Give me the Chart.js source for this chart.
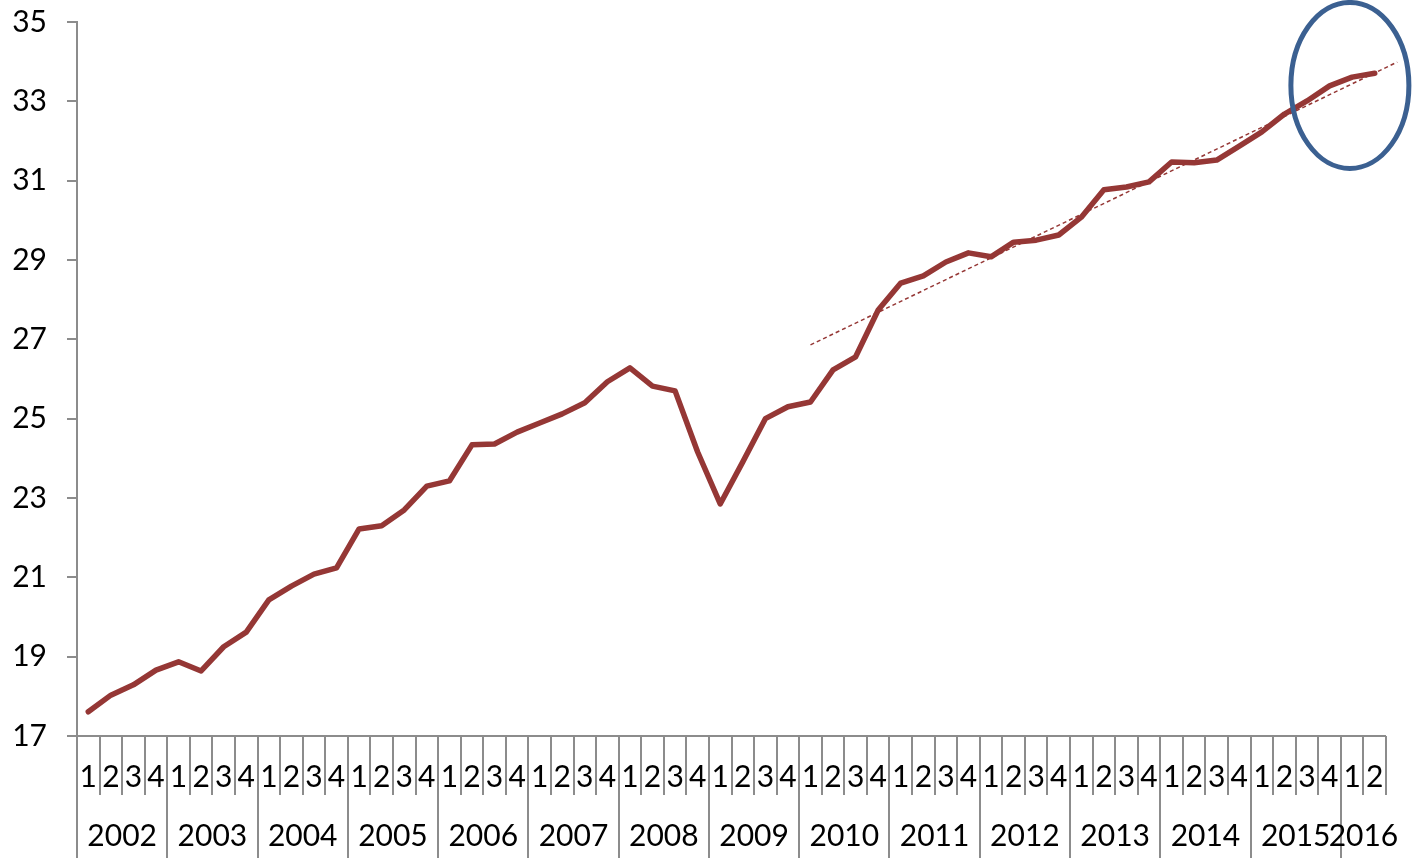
<!DOCTYPE html>
<html>
<head>
<meta charset="utf-8">
<script src="https://cdn.jsdelivr.net/npm/chart.js@4"></script>
<style>
  html, body { margin: 0; padding: 0; background: #fff; }
  #wrap { width: 1413px; height: 858px; }
</style>
</head>
<body>
<div id="wrap"><canvas id="chart"></canvas></div>
<script>
const years = ['2002', '2003', '2004', '2005', '2006', '2007', '2008', '2009',
    '2010', '2011', '2012', '2013', '2014', '2015', '2016'];
const quarters = ['1', '2', '3', '4'];
const values = [
    17.61, 18.03, 18.29, 18.66,   // 2002
    18.87, 18.64, 19.25, 19.62,   // 2003
    20.43, 20.78, 21.08, 21.24,   // 2004
    22.22, 22.30, 22.70, 23.30,   // 2005
    23.43, 24.34, 24.36, 24.66,   // 2006
    24.89, 25.12, 25.40, 25.93,   // 2007
    26.28, 25.82, 25.70, 24.16,   // 2008
    22.85, 23.91, 25.00, 25.30,   // 2009
    25.42, 26.23, 26.56, 27.74,   // 2010
    28.42, 28.60, 28.95, 29.18,   // 2011
    29.08, 29.45, 29.50, 29.63,   // 2012
    30.08, 30.77, 30.84, 30.97,   // 2013
    31.47, 31.45, 31.52, 31.87,   // 2014
    32.23, 32.68, 33.01, 33.39,   // 2015
    33.61, 33.71                  // 2016
];
// dashed trend line, start (2010 Q1) and end (one quarter past the data)
const trendQuarters = [32, 58];
const trendValues = [26.86, 33.99];
const yTicks = [17, 19, 21, 23, 25, 27, 29, 31, 33, 35];

const font = 'Lato, "Liberation Sans", sans-serif';
const axisColor = '#8c8c8c';

// category axis: quarter numbers with the year underneath
const quarterAxis = {
    id: 'quarterAxis',
    afterDraw(chart) {
        const ctx = chart.ctx;
        const x = chart.scales.x;
        const top = chart.chartArea.bottom;
        const n = values.length;
        ctx.save();
        ctx.strokeStyle = axisColor;
        ctx.lineWidth = 2;
        ctx.beginPath();
        ctx.moveTo(chart.chartArea.left, top);
        ctx.lineTo(Math.round(x.getPixelForValue(n - 0.5)), top);
        for (let k = 0; k <= n; k++) {
            const px = Math.round(x.getPixelForValue(k - 0.5));
            const long = k % 4 == 0 && k < n;
            ctx.moveTo(px, top);
            ctx.lineTo(px, top + (long ? 122 : 59));
        }
        ctx.stroke();

        ctx.fillStyle = '#000';
        ctx.font = '30px ' + font;
        ctx.textAlign = 'center';
        ctx.textBaseline = 'middle';
        values.forEach((v, i) => {
            ctx.fillText(quarters[i % 4], x.getPixelForValue(i), top + 41);
        });
        years.forEach((year, j) => {
            const first = j * 4;
            const last = Math.min(first + 3, n - 1);
            ctx.fillText(year, x.getPixelForValue((first + last) / 2), top + 100);
        });
        ctx.restore();
    }
};

// blue ring round the last quarters
const highlight = {
    id: 'highlight',
    afterDatasetsDraw(chart) {
        const { x, y } = chart.scales;
        const ctx = chart.ctx;
        ctx.save();
        ctx.strokeStyle = '#3b6091';
        ctx.lineWidth = 5;
        ctx.beginPath();
        ctx.ellipse(x.getPixelForValue(55.9), y.getPixelForValue(33.4), 59, 83, 0, 0, Math.PI * 2);
        ctx.stroke();
        ctx.restore();
    }
};

const ctx = document.getElementById('chart').getContext('2d');
const chart = new Chart(ctx, {
    type: 'line',
    data: {
        datasets: [
            {
                data: values.map((v, i) => ({ x: i, y: v })),
                borderColor: '#953735',
                borderWidth: 5.5,
                borderJoinStyle: 'round',
                borderCapStyle: 'round',
                pointRadius: 0,
                order: 1,
            },
            {
                data: trendQuarters.map((q, i) => ({ x: q, y: trendValues[i] })),
                borderColor: '#953735',
                borderWidth: 1.5,
                borderDash: [4, 3],
                pointRadius: 0,
                clip: false,
                order: 0,
            }
        ]
    },
    options: {
        responsive: true,
        maintainAspectRatio: false,
        animation: false,
        layout: {
            padding: { left: 0, top: 22, right: 27, bottom: 122 }
        },
        plugins: {
            legend: { display: false },
            tooltip: { enabled: false }
        },
        scales: {
            x: {
                type: 'linear',
                display: false,
                min: -0.5,
                max: values.length - 0.5,
            },
            y: {
                min: yTicks[0],
                max: yTicks[yTicks.length - 1],
                afterFit: (scale) => {
                    // fixed axis width, no extra room for the end labels
                    scale.width = 77;
                    scale.paddingTop = 0;
                    scale.paddingBottom = 0;
                },
                afterBuildTicks: (scale) => { scale.ticks = yTicks.map(v => ({ value: v })); },
                ticks: {
                    color: '#000',
                    font: { family: font, size: 30 },
                    padding: 20,
                },
                grid: {
                    drawOnChartArea: false,
                    color: axisColor,
                    lineWidth: 2,
                    tickLength: 10,
                },
                border: {
                    color: axisColor,
                    width: 2,
                }
            }
        }
    },
    plugins: [quarterAxis, highlight]
});
</script>
</body>
</html>
